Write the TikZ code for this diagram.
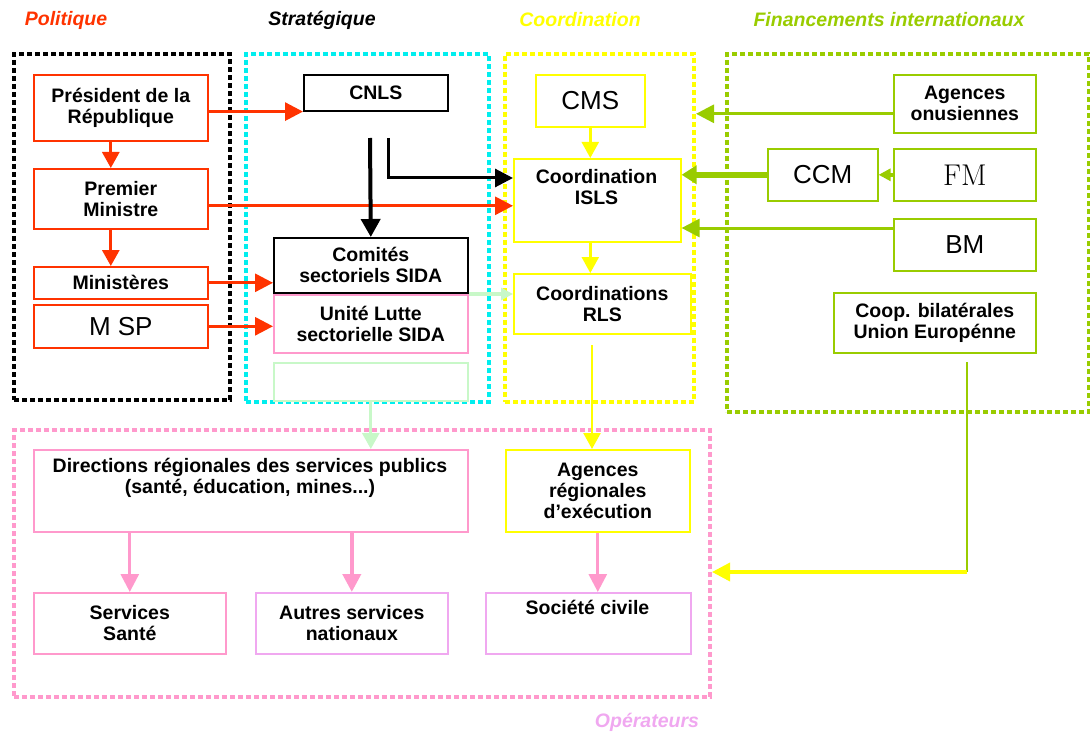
\documentclass[tikz,border=0pt]{standalone}
\usepackage{fontspec}
\setsansfont{Liberation Sans}
\usetikzlibrary{arrows.meta,calc}
\definecolor{cred}{HTML}{FF3300}
\definecolor{ccyan}{HTML}{00EEEE}
\definecolor{cyel}{HTML}{FFFF00}
\definecolor{cgreen}{HTML}{99CC00}
\definecolor{cpink}{HTML}{FF99CC}
\definecolor{cviolet}{HTML}{F0A8F0}
\definecolor{clgreen}{HTML}{C8F8C8}
\newcommand\mkbox[7]{\node[box,draw=#6,anchor=north west,minimum width={#4-#2},minimum height={#5-#3}] (#1) at (#2,#3) {#7};}
\newcommand\mkcont[6]{\node[container,draw=#6,anchor=north west,minimum width={#4-#2},minimum height={#5-#3}] (#1) at (#2,#3) {};}
\begin{document}
\begin{tikzpicture}[x=1pt,y=-1pt,
  box/.style={draw, text=black, line width=1.6pt, inner sep=1pt, align=center, font=\sffamily\bfseries\fontsize{19.5}{21}\selectfont},
  txt/.style={inner sep=0pt, align=center, font=\sffamily\bfseries\fontsize{19.5}{21}\selectfont},
  head/.style={inner sep=0pt, font=\sffamily\bfseries\itshape\fontsize{19.5}{21}\selectfont},
  container/.style={draw, line width=4pt, dash pattern=on 5pt off 3pt, inner sep=0pt},
  arr/.style={-{Triangle[length=18pt,width=18pt]}},
  sarr/.style={-{Triangle[length=16pt,width=17pt]}},
  tarr/.style={-{Triangle[length=12pt,width=12pt]}}
]
\useasboundingbox (0,0) rectangle (1090,733);
% containers
\mkcont{polbox}{12}{52}{228}{398}{black}
\mkcont{strbox}{244}{52}{487}{400}{ccyan}
\mkcont{coobox}{503}{52}{692}{400}{cyel}
\mkcont{finbox}{725}{52}{1087}{410}{cgreen}
\mkcont{opbox}{12}{428}{708}{695}{cpink}
% headings
\node[head,text=cred] (hpol) at (66,20) {Politique};
\node[head,text=black] (hstr) at (322,20) {Stratégique};
\node[head,text=cyel] (hcoo) at (580,20) {Coordination};
\node[head,text=cgreen] (hfin) at (889,20) {Financements internationaux};
\node[head,text=cviolet] (hop) at (647,722) {Opérateurs};
% politique
\mkbox{pres}{33}{74}{207}{140}{cred}{Président de la\\République}
\mkbox{prem}{33}{168}{207}{228}{cred}{Premier\\Ministre}
\mkbox{mins}{33}{266}{207}{298}{cred}{Ministères}
\mkbox{msp}{33}{304}{207}{347}{cred}{{\mdseries\fontsize{26}{28}\selectfont M SP}}
% strategique
\mkbox{cnls}{303}{74}{447}{110}{black}{CNLS}
\mkbox{comites}{273}{237}{467}{292}{black}{Comités\\sectoriels SIDA}
\mkbox{unite}{273}{294}{467}{352}{cpink}{Unité Lutte\\sectorielle SIDA}
\mkbox{emptyg}{273}{362}{467}{400}{clgreen}{}
% coordination
\mkbox{cms}{535}{74}{644}{126}{cyel}{{\mdseries\fontsize{26}{28}\selectfont CMS}}
\mkbox{isls}{513}{158}{680}{241}{cyel}{}
\node[txt] (islsT) at (596.5,187) {Coordination\\ISLS};
\mkbox{rls}{513}{273}{690}{333}{cyel}{Coordinations\\RLS}
% financements
\mkbox{onus}{893}{74}{1035}{132}{cgreen}{Agences\\onusiennes}
\mkbox{ccm}{767}{148}{877}{200}{cgreen}{{\mdseries\fontsize{26}{28}\selectfont CCM}}
\mkbox{fm}{893}{148}{1035}{200}{cgreen}{{\rmfamily\mdseries\fontsize{30}{32}\selectfont FM}}
\mkbox{bm}{893}{218}{1035}{270}{cgreen}{{\mdseries\fontsize{26}{28}\selectfont BM}}
\mkbox{coop}{833}{292}{1035}{352}{cgreen}{Coop. bilatérales\\Union Europénne}
% operateurs
\mkbox{dir}{33}{449}{467}{531}{cpink}{}
\node[txt] (dirT) at (250,478) {Directions régionales des services publics\\(santé, éducation, mines...)};
\mkbox{agr}{505}{449}{689}{531}{cyel}{Agences\\régionales\\d'exécution}
\mkbox{sante}{33}{592}{225}{653}{cpink}{Services\\Santé}
\mkbox{autres}{255}{592}{447}{653}{cviolet}{Autres services\\nationaux}
\mkbox{civ}{485}{592}{690}{653}{cviolet}{}
\node[txt] (civT) at (587.5,607) {Société civile};
% free coordinates
\coordinate (cnlsA) at (370,138);
\coordinate (cnlsB) at (388,138);
\coordinate (rlsA) at (592,345);
\coordinate (coopA) at (967,362);
\coordinate (coopB) at (967,572);
% red arrows
\begin{scope}[cred, line width=3pt]
\draw[arr] (pres.east |- cnls.south west) -- (cnls.south west);
\draw[sarr] ($(pres.south)+(-10,0)$) -- ($(prem.north)+(-10,0)$);
\draw[sarr] ($(prem.south)+(-10,0)$) -- ($(mins.north)+(-10,0)$);
\draw[arr] ($(prem.east)+(0,7)$) -- ($(prem.east -| isls.west)+(0,7)$);
\draw[arr] (mins.east) -- (mins.east -| comites.west);
\draw[arr] (msp.east) -- (msp.east -| unite.west);
\end{scope}
% black arrows
\draw[black, line width=4pt, -{Triangle[length=18pt,width=19pt]}] (cnlsA) -- (comites.north);
\draw[black, line width=3pt, arr] (cnlsB) |- ($(isls.north west)+(0,20)$);
% light green
\draw[clgreen, line width=4pt, tarr] (unite.north east) -- (unite.north east -| rls.west);
\draw[clgreen, line width=3pt, sarr] (emptyg.south) -- (emptyg.south |- dir.north);
% yellow
\begin{scope}[cyel, line width=2.4pt]
\draw[sarr] (cms.south) -- (cms.south |- isls.north);
\draw[sarr] (cms.south |- isls.south) -- (cms.south |- rls.north);
\draw[sarr] (rlsA) -- (rlsA |- agr.north);
\end{scope}
% green
\begin{scope}[cgreen]
\draw[line width=3pt, arr] ($(onus.west)+(0,10)$) -- ($(onus.west -| coobox.east)+(0,10)$);
\draw[line width=6pt, -{Triangle[length=15pt,width=18pt]}] (ccm.west) -- (ccm.west -| isls.east);
\draw[line width=4pt, tarr] (fm.west) -- (ccm.east);
\draw[line width=3pt, arr] ($(bm.north west)+(0,10)$) -- ($(bm.north west -| isls.east)+(0,10)$);
\draw[line width=2pt] (coopA) -- (coopB);
\end{scope}
\draw[cyel, line width=3.5pt, arr] (coopB) -- (coopB -| opbox.east);
% pink
\begin{scope}[cpink]
\draw[line width=3pt, arr] (sante.north |- dir.south) -- (sante.north);
\draw[line width=4pt, arr] (autres.north |- dir.south) -- (autres.north);
\draw[line width=3pt, arr] (agr.south) -- (agr.south |- civ.north);
\end{scope}
\end{tikzpicture}
\end{document}
